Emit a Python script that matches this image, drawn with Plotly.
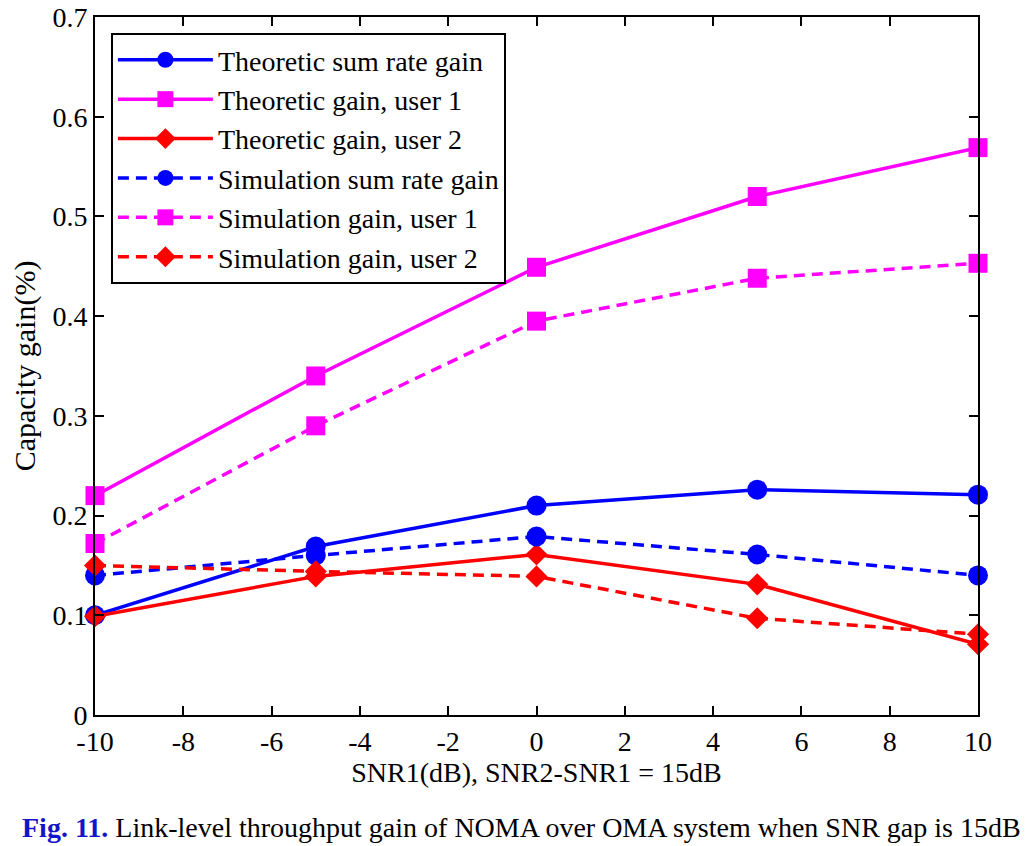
import plotly.graph_objects as go

snr = [-10, -5, 0, 5, 10]
theo_sum = [0.100, 0.169, 0.210, 0.226, 0.221]
theo_u1 = [0.220, 0.340, 0.449, 0.520, 0.569]
theo_u2 = [0.099, 0.139, 0.161, 0.131, 0.071]
sim_sum = [0.140, 0.160, 0.179, 0.161, 0.140]
sim_u1 = [0.172, 0.290, 0.395, 0.438, 0.453]
sim_u2 = [0.150, 0.144, 0.139, 0.097, 0.081]

x_tickvals = [-10, -8, -6, -4, -2, 0, 2, 4, 6, 8, 10]
x_ticktext = ["-10", "-8", "-6", "-4", "-2", "0", "2", "4", "6", "8", "10"]
y_tickvals = [0, 0.1, 0.2, 0.3, 0.4, 0.5, 0.6, 0.7]
y_ticktext = ["0", "0.1", "0.2", "0.3", "0.4", "0.5", "0.6", "0.7"]

series = [
    ("Theoretic sum rate gain", theo_sum, "#0000FF", "circle", "solid", 20),
    ("Theoretic gain, user 1", theo_u1, "#FF00FF", "square", "solid", 19),
    ("Theoretic gain, user 2", theo_u2, "#FF0000", "diamond", "solid", 17),
    ("Simulation sum rate gain", sim_sum, "#0000FF", "circle", "11px,7px", 20),
    ("Simulation gain, user 1", sim_u1, "#FF00FF", "square", "11px,7px", 19),
    ("Simulation gain, user 2", sim_u2, "#FF0000", "diamond", "11px,7px", 17),
]

fig = go.Figure()
for i, (name, vals, color, sym, dash, size) in enumerate(series):
    fig.add_trace(go.Scatter(
        x=snr, y=vals, name=name, mode="lines+markers",
        line=dict(color=color, width=3.5, dash=dash),
        marker=dict(symbol=sym, size=size, color=color, line=dict(width=0)),
        legendgroup=f"g{i}", cliponaxis=False,
    ))

font_family = "Liberation Serif, Times New Roman, serif"
fig.update_layout(
    width=1033, height=846,
    margin=dict(l=87, r=63, t=9, b=139),
    paper_bgcolor="white", plot_bgcolor="white",
    font=dict(family=font_family, size=28, color="black"),
    showlegend=True,
    legend=dict(
        x=0.018, y=0.977, xanchor="left", yanchor="top",
        bgcolor="white", bordercolor="black", borderwidth=2,
        font=dict(family=font_family, size=28, color="black"),
        tracegroupgap=0, itemwidth=95,
    ),
    xaxis=dict(
        range=[-10, 10], tickvals=x_tickvals, ticktext=x_ticktext,
        ticks="inside", ticklen=9, tickwidth=2, tickcolor="black",
        showline=True, linecolor="black", linewidth=2, mirror="ticks",
        showgrid=False, zeroline=False, automargin=False,
        ticklabeloverflow="allow",
        title=dict(text="SNR1(dB), SNR2-SNR1 = 15dB", font=dict(size=28), standoff=7),
        tickfont=dict(size=28),
    ),
    yaxis=dict(
        range=[0, 0.7], tickvals=y_tickvals, ticktext=y_ticktext,
        ticks="inside", ticklen=9, tickwidth=2, tickcolor="black",
        showline=True, linecolor="black", linewidth=2, mirror="ticks",
        showgrid=False, zeroline=False, automargin=False,
        ticklabeloverflow="allow",
        title=dict(text="Capacity gain(%)", font=dict(size=30), standoff=14),
        tickfont=dict(size=28),
    ),
)

fig.add_annotation(
    xref="paper", yref="paper", x=-0.0849, y=-0.1605, xanchor="left", yanchor="middle",
    text="<b><span style='color:#1414C8'>Fig. 11.</span></b> Link-level throughput gain of NOMA over OMA system when SNR gap is 15dB",
    showarrow=False, font=dict(family=font_family, size=28, color="black"), align="left",
)

fig.write_html("out.html")
